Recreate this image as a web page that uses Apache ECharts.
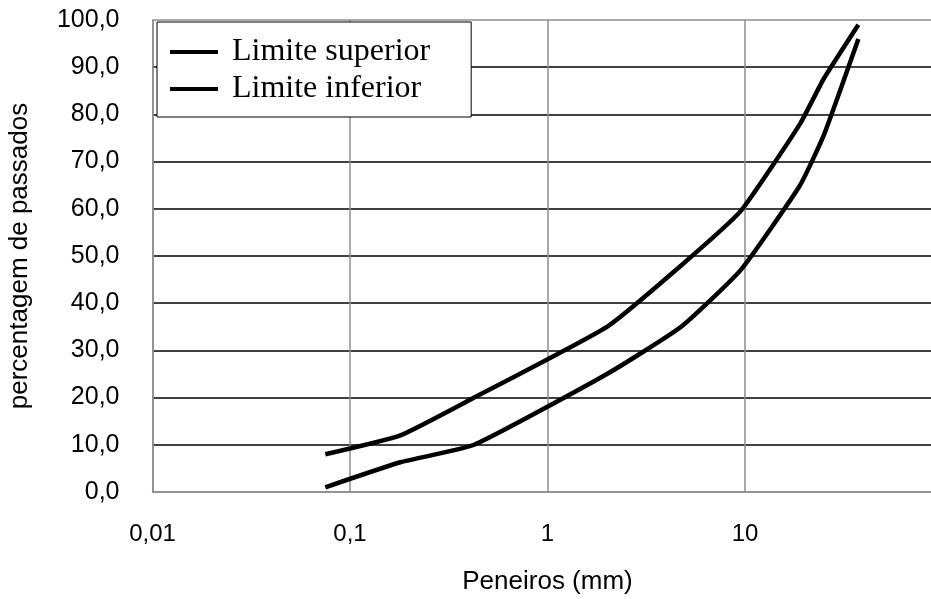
<!DOCTYPE html>
<html>
<head>
<meta charset="utf-8">
<script src="https://cdn.jsdelivr.net/npm/echarts@6/dist/echarts.min.js"></script>
<style>
html,body{margin:0;padding:0;background:#fff;overflow:hidden;}
#chart{width:931px;height:599px;}
</style>
</head>
<body>
<div id="chart"></div>
<script>
// Sieve sizes (mm)
const sieves = [0.075, 0.18, 0.425, 2, 4.75, 9.5, 19, 25, 37.5];
// % passing
const limiteSuperior = [8, 12, 20, 35, 48, 59.5, 78, 87.5, 99];
const limiteInferior = [1, 6.3, 10, 25, 35, 47, 65, 75.5, 96];
const seriesNames = ['Limite superior', 'Limite inferior'];
const yTicks = [0, 10, 20, 30, 40, 50, 60, 70, 80, 90, 100];

const chart = echarts.init(document.getElementById('chart'), null, {renderer: 'canvas'});
const pair = (xs, ys) => xs.map((x, i) => [x, ys[i]]);
const fmt = v => (v >= 100 ? '' : String(v).replace('.', ','));

const gridColors = yTicks.map((v, i) => (i === 0 || i === yTicks.length - 1) ? '#8c8c8c' : '#000');

chart.setOption({
  animation: false,
  backgroundColor: '#fff',
  grid: {left: 152.5, width: 790, top: 20, height: 472, containLabel: false, outerBoundsMode: 'none'},
  legend: {
    orient: 'vertical',
    left: 157, top: 22,
    data: seriesNames,
    icon: 'rect',
    itemWidth: 48, itemHeight: 4,
    itemGap: 5,
    padding: [14, 41, 12, 13],
    backgroundColor: '#fff',
    borderColor: '#000', borderWidth: 1,
    textStyle: {fontFamily: 'Liberation Serif', fontSize: 32, color: '#000', lineHeight: 30, padding: [0, 0, 0, 9]},
    itemStyle: {color: '#000'}
  },
  xAxis: {
    type: 'log', logBase: 10, min: 0.01, max: 100,
    name: 'Peneiros (mm)', nameLocation: 'middle', nameGap: 77,
    nameTextStyle: {fontFamily: 'Liberation Sans', fontSize: 26, color: '#000'},
    axisLine: {show: true, lineStyle: {color: '#8c8c8c', width: 1.5}},
    axisTick: {show: false},
    minorTick: {show: false},
    axisLabel: {fontFamily: 'Liberation Sans', fontSize: 24, color: '#000', margin: 30, formatter: v => fmt(v)},
    splitLine: {show: true, lineStyle: {color: '#8c8c8c', width: 1.5}}
  },
  yAxis: {
    type: 'value', min: 0, max: 100, interval: 10,
    name: 'percentagem de passados', nameLocation: 'middle', nameGap: 120,
    nameTextStyle: {fontFamily: 'Liberation Sans', fontSize: 26, color: '#000'},
    axisLine: {show: true, lineStyle: {color: '#8c8c8c', width: 1.5}},
    axisTick: {show: false},
    axisLabel: {fontFamily: 'Liberation Sans', fontSize: 25, color: '#000', margin: 33, formatter: v => v.toFixed(1).replace('.', ',')},
    splitLine: {show: true, lineStyle: {color: gridColors, width: 1.5}}
  },
  series: [
    {name: seriesNames[0], type: 'line', data: pair(sieves, limiteSuperior), showSymbol: false, smooth: 0.15,
     lineStyle: {color: '#000', width: 4.5}, itemStyle: {color: '#000'}},
    {name: seriesNames[1], type: 'line', data: pair(sieves, limiteInferior), showSymbol: false, smooth: 0.15,
     lineStyle: {color: '#000', width: 4.5}, itemStyle: {color: '#000'}}
  ]
});
</script>
</body>
</html>
